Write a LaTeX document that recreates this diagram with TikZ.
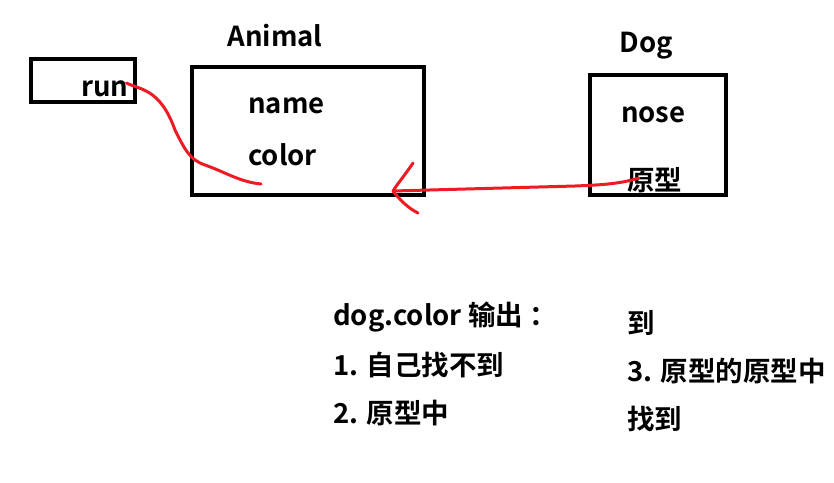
\documentclass[tikz,border=0pt]{standalone}
\usepackage{fontspec}
\setmainfont{Noto Sans CJK SC}[BoldFont={* Bold}]
\definecolor{paintred}{HTML}{ED1C24}
\begin{document}
\begin{tikzpicture}[x=1pt,y=-1pt,
  box/.style={draw=black,line width=4pt},
  lbl/.style={font=\fontsize{27.5}{30}\selectfont\bfseries,inner sep=0pt},
  lft/.style={lbl,anchor=west},
  redline/.style={draw=paintred,line width=3pt,line cap=round,line join=round}]
\useasboundingbox (0,0) rectangle (834,482);
% boxes
\draw[box] (31,59) rectangle (135,102);
\draw[box] (192,67) rectangle (424,195);
\draw[box] (590,75) rectangle (726,195);
% labels
\node[lbl] (animal) at (275,36) {Animal};
\node[lbl] (dog) at (646,46) {Dog};
\node[lft] (run) at (81,89) {run};
\node[lft] (name) at (248,106) {name};
\node[lft] (color) at (248,155) {color};
\node[lft] (nose) at (621,115) {nose};
\node[lft] (proto) at (627,180) {原型};
% bottom text
\node[lft] (t1) at (333,317) {dog.color 输出 ：};
\node[lft] (t2) at (333,365) {1. 自己找不到};
\node[lft] (t3) at (333,413) {2. 原型中};
\node[lft] (t4) at (627,323) {到};
\node[lft] (t5) at (627,371) {3. 原型的原型中};
\node[lft] (t6) at (627,419) {找到};
% red connectors
\coordinate (runend) at (261,184);
\coordinate (tip) at (393,191);
\draw[redline] (run.east) ++(-2,-6) .. controls (140,90) and (160,88) .. (175,130)
  .. controls (185,150) and (190,160) .. (205,165) .. controls (225,172) and (240,182) .. (runend);
\draw[redline] (proto.west) ++(12,-2) .. controls (620,184) and (600,185) .. (575,186)
  -- (tip);
\draw[redline] (413,163) .. controls (405,175) and (398,183) .. (tip)
  .. controls (400,200) and (408,208) .. (418,213);
\end{tikzpicture}
\end{document}
